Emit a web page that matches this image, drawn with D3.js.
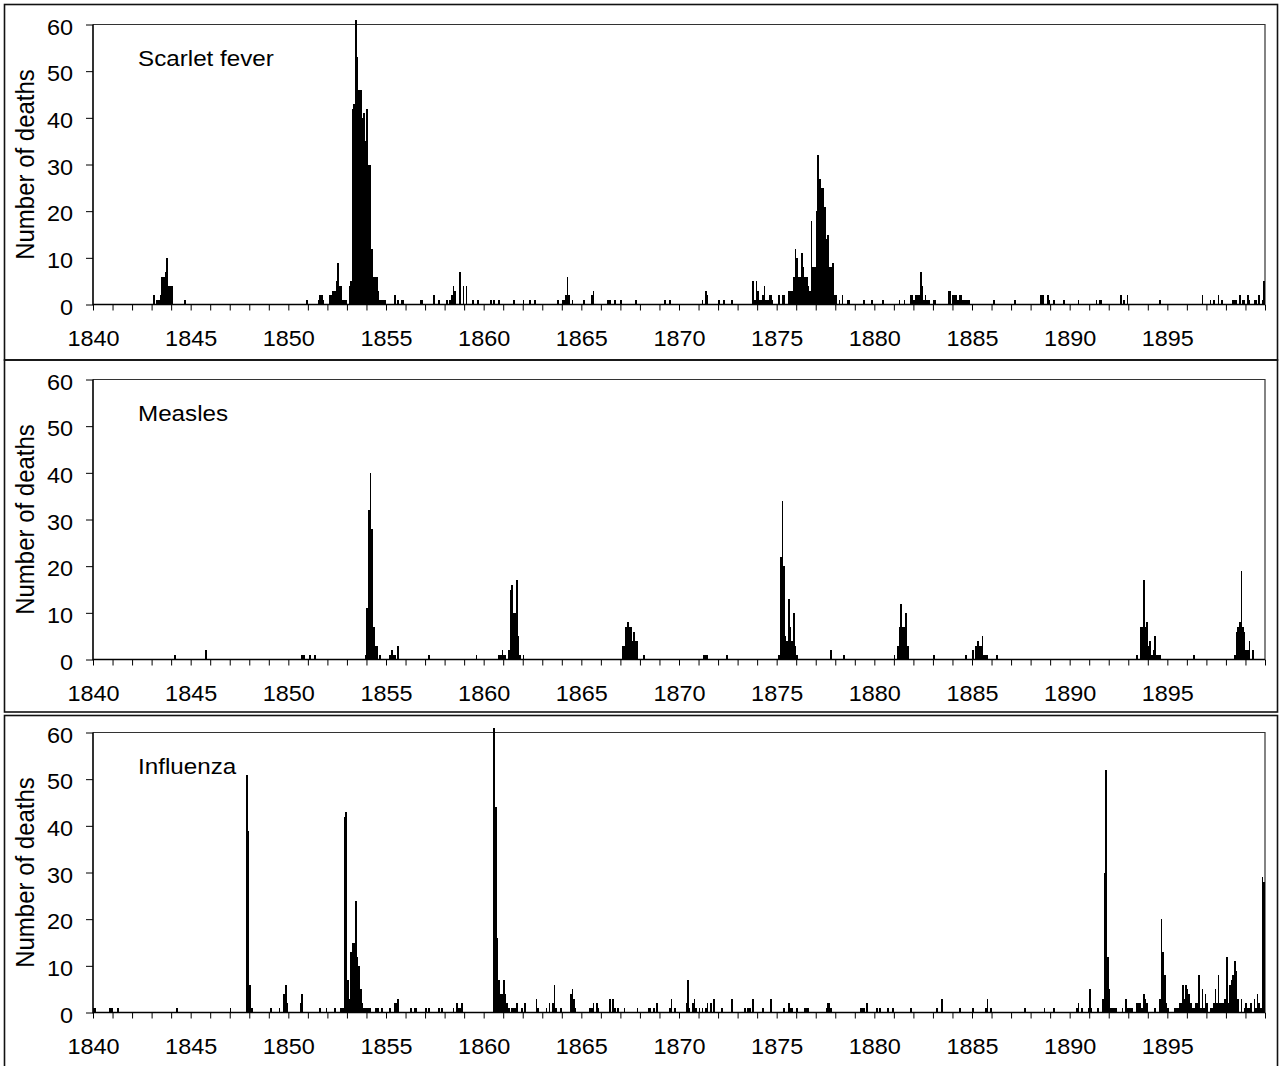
<!DOCTYPE html>
<html>
<head>
<meta charset="utf-8">
<script src="https://cdn.jsdelivr.net/npm/d3@7"></script>
<style>
  body { margin: 0; background: #fff; }
  svg { display: block; font-family: "Liberation Sans", Arial, sans-serif; }
</style>
</head>
<body>
<svg id="chart" width="1280" height="1066"></svg>
<script>
// monthly deaths, Jan 1840 .. Dec 1899 (720 months)
// each run: [months since Jan 1840, [counts for consecutive months]]; missing months are 0
const scarletRuns = [
  [37, [2,0,1,1,2,6,6,7,10,4,4,4]], [56, [1]], [131, [1]], [138, [1,2,2,1]],
  [145, [2,2,3,3,5,9,4,4,1,1,1,0,4,5,42,43,61,53,46,46,40,41,35,42,30,30,12,6,6,6,3,1,1,1,1]],
  [185, [2,0,1,0,1,1]], [201, [1,1]], [209, [2]], [212, [1]], [217, [1]],
  [219, [1,2,4,3,0,0,7,0,4,0,4]], [233, [1]], [236, [1]], [244, [1]], [246, [1]], [249, [1]],
  [258, [1]], [264, [1]], [268, [1]], [271, [1]], [285, [1]], [288, [1,1,2,6,2,0,1]],
  [301, [1]], [306, [2,3]], [316, [1,1]], [320, [1]], [324, [1]], [333, [1]], [351, [1]], [354, [1]],
  [374, [1,0,3,2]], [384, [1]], [387, [1]], [392, [1]],
  [405, [5,1,5,3,1,1,2,4,1,1,2,2,1]], [421, [2,0,2,2]],
  [427, [3,3,3,6,12,10,6,6,11,8,6,6,4,3,18,8,8,20,32,27,25,25,21,14,15,8,8,9,2,2]],
  [458, [1,0,2,0,0,1,1]], [473, [1]], [478, [1]], [485, [1]], [495, [1]], [498, [1]],
  [502, [2,2,1,2,2,2,7,4,1,2,1,1,0,0,1,1]], [525, [3,3,0,2,2,2,1,2,2,1,1,1,1,1]],
  [553, [1]], [566, [1]], [582, [2,2,0,0,2,1,0,0,1]], [596, [1]], [605, [1]], [616, [1,0,1,1]],
  [631, [2,0,1,0,2]], [655, [1]], [681, [2]], [686, [1,0,1]], [691, [2,0,1]],
  [700, [1,1,1,0,2,0,1,1,0,2,1,0,0,1,1,0,2,0,1,5]]
];
const measlesRuns = [
  [50, [1]], [69, [2]], [128, [1,1]], [133, [1]], [136, [1]],
  [167, [1,11,32,40,28,7,3,3]], [176, [1]], [182, [1,2,1]], [185, [1]], [187, [3]],
  [206, [1]], [235, [1]], [249, [1,1,2,1,1,0,2,15,16,10,10,17,5,1,0,1]],
  [325, [3,3,7,8,7,7,4,6,4,4]], [338, [1]], [375, [1,1,1]], [389, [1]],
  [421, [1,22,34,20,5,4,13,7,4,10,3,1]], [453, [2]], [461, [1]],
  [492, [1,0,3,7,12,7,7,10,3]], [516, [1]], [536, [1]], [540, [2,0,3,4,3,3,5,1,1,1]], [555, [1]],
  [641, [1,0,7,7,17,7,8,3,4,1,2,5,1,1,1]], [676, [1]], [701, [1,6,7,8,19,7,6,2,2,4,0,2]]
];
const influenzaRuns = [
  [0, [1,1]], [10, [1,1]], [15, [1]], [51, [1]], [84, [1]], [94, [51,39,6,1]],
  [109, [1]], [114, [1]], [117, [4,6,2]], [127, [2,4]], [139, [1]], [143, [1]], [148, [1]], [152, [1,1]],
  [154, [42,43,7,3,13,15,15,24,12,10,5,2,1,1,1,1]], [170, [1]], [173, [1,1,1]], [177, [1]],
  [182, [1]], [185, [2,2,3]], [195, [1]], [197, [1,1]], [204, [1,0,1]], [212, [1,0,1]], [221, [1]],
  [223, [2,1,1,2]], [246, [61,44,16,7,4,4,7,4,2,1,0,1,1,1,2]], [263, [1,0,2]], [272, [3,1]],
  [278, [1,0,2,0,2,6,1]], [287, [1]], [293, [4,5,3,1]], [305, [1,1,2,0,2,1]], [317, [3,0,3,1,0,1]],
  [326, [1]], [334, [1]], [341, [1,1,0,1,0,2]], [354, [1,3,0,1]],
  [364, [2,7,1,0,2,3,1,0,1,0,1,0,1,2,0,2,0,3]], [386, [1]], [392, [3]], [400, [1]], [402, [1,1]],
  [405, [3]], [411, [1]], [416, [3]], [424, [1]], [427, [2,1,1,0,0,1]], [437, [1,1,1]],
  [450, [1,2,2,1]], [471, [1,1,1,0,2]], [481, [1,0,1]], [488, [1]], [491, [1]], [502, [1]],
  [518, [1]], [521, [3]], [532, [1]], [540, [1]], [548, [1,3,0,1]], [572, [1]], [584, [1]], [590, [1]],
  [604, [1,2,0,1]], [611, [1,5,1]], [617, [1]], [620, [3,30,52,12,5,1,1,1,1]],
  [632, [1,0,3,1,1,1,1,0,0,2,2,2,1,4,3,2]], [652, [1]], [655, [3,20,13,8,2,1]],
  [664, [1,1,1,2,2,6,3,6,5,4, 2,1,1,2,2,8,1,5,1,4, 2,0,1,1,2,5,2,8,2,2,
         2,3,12,2,6,7,8,11,9,3, 0,3,0,1,2,1,1,2,0,3, 1,4,2,1,29,28]]
];

const diseases = ["Scarlet fever", "Measles", "Influenza"];
const seriesRuns = [scarletRuns, measlesRuns, influenzaRuns];
const years = d3.range(1840, 1901);
const yTicks = [0, 10, 20, 30, 40, 50, 60];
const yTitle = "Number of deaths";

function expand(runs) {
    const a = new Array(720).fill(0);
    runs.forEach(([m, vals]) => vals.forEach((v, i) => { a[m + i] = v; }));
    return a;
}

// widen text a little, the source glyphs are horizontally stretched
function stretch(sel, k) {
    sel.each(function () {
        const len = this.getComputedTextLength();
        if (len > 0) d3.select(this).attr("textLength", len * k).attr("lengthAdjust", "spacingAndGlyphs");
    });
}

const svg = d3.select("#chart");
const left = 93, right = 1265;
const frames = [[4.5, 360], [360, 712], [715.5, 1080]];
const plotTops = [24.5, 379.5, 732.5];
const plotH = 280;

const x = d3.scaleLinear().domain([1840, 1900]).range([left, right]);

diseases.forEach((name, k) => {
    const top = plotTops[k], base = top + plotH;
    const y = d3.scaleLinear().domain([0, 60]).range([base, top]);
    const counts = expand(seriesRuns[k]);

    svg.append("rect")
        .attr("x", 4.5).attr("y", frames[k][0])
        .attr("width", 1273).attr("height", frames[k][1] - frames[k][0])
        .attr("fill", "none").attr("stroke", "#111").attr("stroke-width", 1.6);

    // plot box top/right
    svg.append("path")
        .attr("d", `M${left},${top}H${right}V${base}`)
        .attr("fill", "none").attr("stroke", "#333").attr("stroke-width", 1.2);

    const g = svg.append("g");
    g.selectAll("rect.bar")
        .data(counts.map((v, m) => ({ m, v })).filter(d => d.v > 0))
        .join("rect")
        .attr("class", "bar")
        .attr("x", d => x(1840 + d.m / 12))
        .attr("width", d => x(1840 + (d.m + 1) / 12) - x(1840 + d.m / 12))
        .attr("y", d => y(d.v))
        .attr("height", d => base - y(d.v))
        .attr("fill", "#000")
        .attr("shape-rendering", "crispEdges");

    const yAxis = svg.append("g")
        .attr("transform", `translate(${left},0)`)
        .call(d3.axisLeft(y).tickValues(yTicks).tickSize(7).tickPadding(13));
    yAxis.select(".domain").remove();
    yAxis.selectAll("line").attr("stroke", "#000");
    yAxis.selectAll("text").attr("font-size", 21.5).attr("fill", "#000")
        .attr("font-family", "Liberation Sans, Arial, sans-serif").attr("dy", "0.45em");
    stretch(yAxis.selectAll("text"), 1.09);

    const xAxis = svg.append("g")
        .attr("transform", `translate(0,${base})`)
        .call(d3.axisBottom(x).tickValues(years).tickSize(6).tickPadding(20)
            .tickFormat(d => (d % 5 === 0 && d < 1900) ? d : ""));
    xAxis.select(".domain").remove();
    xAxis.selectAll("line").attr("stroke", "#000");
    xAxis.selectAll("text").attr("font-size", 21.5).attr("fill", "#000")
        .attr("font-family", "Liberation Sans, Arial, sans-serif");
    stretch(xAxis.selectAll("text"), 1.09);

    // axis lines
    svg.append("path")
        .attr("d", `M${left},${top}V${base}H${right}`)
        .attr("fill", "none").attr("stroke", "#000").attr("stroke-width", 1.6);

    svg.append("text")
        .attr("transform", `translate(34,${(top + base) / 2}) rotate(-90) scale(1,1.1)`)
        .attr("text-anchor", "middle")
        .attr("font-size", 24)
        .text(yTitle);

    const lbl = svg.append("text")
        .attr("x", 138).attr("y", top + 41.5)
        .attr("font-size", 22)
        .text(name);
    stretch(lbl, 1.1);
});
</script>
</body>
</html>
